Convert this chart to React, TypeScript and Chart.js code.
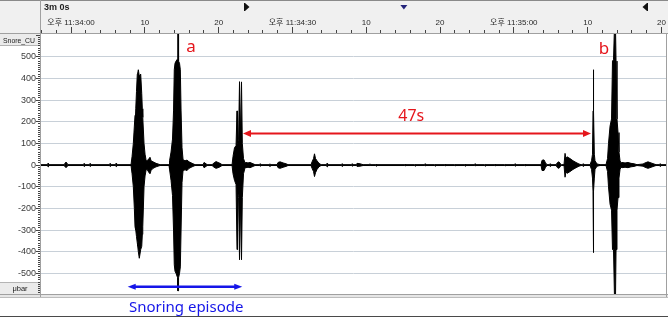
import React, { useEffect, useRef } from 'react';
import { Chart, registerables } from 'chart.js';

Chart.register(...registerables);

// ---- axis ticks ----
const xTickValues = [0, 10, 20, 30, 40, 50, 60, 70, 80];
const xTickLabels = ['오후 11:34:00', '10', '20', '오후 11:34:30', '10', '20', '오후 11:35:00', '10', '20'];
const yTickValues = [-500, -400, -300, -200, -100, 0, 100, 200, 300, 400, 500];
const yTickLabels = ['-500', '-400', '-300', '-200', '-100', '0', '100', '200', '300', '400', '500'];

// ---- waveform envelope (seconds after 11:34:00, µbar) ----
const waveT = [
  -4.07,
  -3.18, -3.12, -3.05,
  -0.95, -0.68, -0.41,
  1.69, 1.76, 1.83,
  2.5, 2.57, 2.64,
  5.21, 5.28, 5.35,
  6.03, 6.1, 6.17,
  8.13, 8.27, 8.44, 8.58, 8.67, 8.77, 8.87, 8.98, 9.04, 9.12, 9.25, 9.44, 9.58, 9.66, 9.72, 9.89, 10.03, 10.16,
  10.3, 10.57, 10.7, 10.84, 11.11, 11.52, 12.06,
  13.28, 13.35, 13.55, 13.75, 13.89, 13.99, 14.09, 14.23, 14.44, 14.47, 14.54, 14.57, 14.7, 14.81, 14.91, 15.04, 15.18,
  15.45, 15.72, 15.99, 16.4, 16.8,
  17.89, 18.02, 18.29, 18.43,
  19.11, 19.38, 19.65, 19.92, 20.19, 20.46,
  21.82, 21.95, 22.15, 22.36, 22.49, 22.56, 22.7, 22.83, 22.93, 23.01, 23.1, 23.21, 23.37, 23.58,
  23.71, 23.98, 24.25, 24.53, 24.93,
  25.54, 25.61, 25.68,
  26.89, 26.96, 27.03,
  27.91, 28.05, 28.32, 28.73, 29.13, 29.4,
  32.52, 32.66, 32.86, 32.99, 33.13, 33.33, 33.6, 33.88,
  34.62, 34.69, 34.76,
  36.65, 36.72, 36.79,
  38.01, 38.08, 38.15,
  38.68, 38.75, 39.16, 39.57,
  40.44, 40.51, 40.58,
  41.26, 41.33, 41.4,
  45.19, 45.26, 45.33,
  46.54, 46.61, 46.68,
  47.9, 47.97, 48.04,
  49.25, 49.32, 49.39,
  50.61, 50.68, 50.75,
  51.96, 52.03, 52.1,
  53.32, 53.39, 53.46,
  54.67, 54.74, 54.81,
  56.03, 56.1, 56.17,
  57.38, 57.45, 57.52,
  58.74, 58.81, 58.88,
  60.09, 60.16, 60.23,
  61.45, 61.52, 61.59,
  63.69, 63.82, 64.09, 64.3, 64.5,
  64.84, 64.91, 64.98,
  65.72, 65.92, 66.12, 66.33, 66.46,
  66.8, 66.94, 67.07, 67.21, 67.62, 68.02, 68.43, 68.83, 69.11,
  69.31, 69.38, 69.45,
  70.33, 70.53, 70.66, 70.73, 70.77, 70.83, 70.91, 71.0, 71.27, 71.68,
  72.49, 72.7, 72.83, 73.04, 73.24, 73.37, 73.51, 73.69, 73.75, 73.85, 73.98, 74.12, 74.25, 74.39, 74.53,
  74.66, 75.07, 75.47, 75.88, 76.29, 76.69,
  77.51, 77.78, 78.18, 78.59, 79.0, 79.27,
  79.74, 79.81, 79.88, 80.62,
];

const waveHi = [
  2,
  2, 8, 2,
  2, 14, 2,
  2, 7, 2,
  2, 7, 2,
  2, 7, 2,
  2, 8, 2,
  2, 40, 100, 180, 230, 260, 340, 420, 425, 440, 410, 420, 330, 260, 220, 100, 50, 25,
  20, 30, 36, 20, 15, 8, 2,
  2, 20, 60, 120, 250, 440, 470, 480, 490, 700, 700, 480, 470, 440, 250, 80, 25,
  20, 23, 15, 8, 2,
  2, 12, 6, 2,
  2, 10, 16, 12, 8, 2,
  2, 40, 80, 90, 250, 100, 120, 385, 120, 120, 384, 100, 30, 10,
  12, 10, 12, 8, 2,
  2, 6, 2,
  2, 6, 2,
  2, 12, 15, 10, 6, 2,
  2, 15, 30, 52, 30, 20, 8, 2,
  2, 8, 2,
  2, 6, 2,
  2, 6, 2,
  2, 8, 6, 2,
  2, 6, 2,
  2, 5, 2,
  2, 5, 2,
  2, 4, 2,
  2, 6, 2,
  2, 4, 2,
  2, 5, 2,
  2, 4, 2,
  2, 5, 2,
  2, 6, 2,
  2, 4, 2,
  2, 5, 2,
  2, 4, 2,
  2, 6, 2,
  2, 5, 2,
  2, 22, 24, 10, 2,
  2, 6, 2,
  2, 12, 15, 5, 2,
  2, 54, 30, 38, 30, 20, 12, 5, 2,
  2, 6, 2,
  2, 20, 50, 250, 440, 250, 50, 20, 5, 2,
  2, 30, 100, 180, 213, 480, 486, 700, 700, 480, 213, 150, 60, 20, 10,
  12, 10, 12, 8, 6, 2,
  5, 10, 15, 10, 5, 2,
  2, 6, 2, 2,
];

const waveLo = [
  -2,
  -2, -8, -2,
  -2, -12, -2,
  -2, -6, -2,
  -2, -6, -2,
  -2, -6, -2,
  -2, -7, -2,
  -2, -40, -100, -200, -285, -300, -330, -360, -375, -400, -430, -390, -375, -320, -285, -100, -50, -25,
  -20, -35, -40, -25, -15, -8, -2,
  -2, -20, -70, -140, -300, -460, -490, -500, -520, -580, -580, -520, -500, -470, -300, -80, -25,
  -22, -25, -15, -8, -2,
  -2, -12, -6, -2,
  -2, -10, -15, -12, -8, -2,
  -2, -40, -70, -90, -390, -120, -150, -437, -150, -150, -437, -150, -40, -12,
  -12, -10, -12, -8, -2,
  -2, -5, -2,
  -2, -6, -2,
  -2, -12, -15, -10, -6, -2,
  -2, -15, -30, -53, -35, -20, -8, -2,
  -2, -8, -2,
  -2, -6, -2,
  -2, -5, -2,
  -2, -6, -5, -2,
  -2, -4, -2,
  -2, -5, -2,
  -2, -4, -2,
  -2, -5, -2,
  -2, -4, -2,
  -2, -5, -2,
  -2, -4, -2,
  -2, -4, -2,
  -2, -5, -2,
  -2, -4, -2,
  -2, -5, -2,
  -2, -4, -2,
  -2, -4, -2,
  -2, -5, -2,
  -2, -4, -2,
  -2, -25, -25, -10, -2,
  -2, -6, -2,
  -2, -12, -15, -5, -2,
  -2, -56, -30, -38, -30, -20, -12, -5, -2,
  -2, -6, -2,
  -2, -20, -60, -120, -404, -120, -60, -20, -5, -2,
  -2, -30, -100, -180, -208, -390, -391, -700, -700, -390, -208, -150, -60, -20, -10,
  -12, -10, -12, -8, -6, -2,
  -5, -10, -15, -10, -5, -2,
  -2, -6, -2, -2,
];

// ---- annotations (data units) ----
const intervalArrow = { from: 23.3, to: 70.46, value: 146 };
const intervalLabel = { text: '47s', t: 46.1, value: 203 };
const episodeArrow = { from: 7.68, to: 23.2, value: -562 };
const episodeLabel = { text: 'Snoring episode', t: 15.6 };
const peakLabels = [
  { text: 'a', t: 16.25, value: 520 },
  { text: 'b', t: 72.2, value: 515 },
];
const headerTitle = '3m 0s';
const channelName = 'Snore_CU';
const unitName = 'μbar';
const markerTimes = { start: 23.6, cursor: 45.1, end: 77.8 };

const X_MIN = -4.07;
const X_MAX = 80.62;
const Y_MIN = -595;
const Y_MAX = 605;

const NARROW = '"Liberation Sans Narrow", "Liberation Sans", "Noto Sans CJK KR", sans-serif';
const SANS = '"Liberation Sans", "DejaVu Sans", sans-serif';
const ANNO = '"Noto Sans", "Noto Sans CJK KR", sans-serif';
const RED = '#e5161c';
const BLUE = '#1515e8';

function drawArrow(ctx: CanvasRenderingContext2D, x1: number, x2: number, y: number, color: string, lw: number, hl: number, hw: number) {
  ctx.strokeStyle = color;
  ctx.fillStyle = color;
  ctx.lineWidth = lw;
  ctx.beginPath();
  ctx.moveTo(x1 + hl * 0.7, y);
  ctx.lineTo(x2 - hl * 0.7, y);
  ctx.stroke();
  ctx.beginPath();
  ctx.moveTo(x1, y);
  ctx.lineTo(x1 + hl, y - hw / 2);
  ctx.lineTo(x1 + hl, y + hw / 2);
  ctx.closePath();
  ctx.fill();
  ctx.beginPath();
  ctx.moveTo(x2, y);
  ctx.lineTo(x2 - hl, y - hw / 2);
  ctx.lineTo(x2 - hl, y + hw / 2);
  ctx.closePath();
  ctx.fill();
}

function fitText(ctx: CanvasRenderingContext2D, text: string, x: number, y: number, maxW: number) {
  const w = ctx.measureText(text).width;
  ctx.save();
  ctx.translate(x, y);
  if (w > maxW) ctx.scale(maxW / w, 1);
  ctx.fillText(text, 0, 0);
  ctx.restore();
}

const decor = {
  id: 'decor',
  beforeDraw(chart: any) {
    const { ctx, width, height, chartArea: ca } = chart;
    ctx.save();
    ctx.fillStyle = '#ffffff';
    ctx.fillRect(0, 0, width, height);
    ctx.fillStyle = '#f0f0f0';
    ctx.fillRect(0, 0, width, ca.top);
    ctx.fillStyle = '#e6e6e6';
    ctx.fillRect(0, ca.bottom, width, 3);
    ctx.restore();
  },
  afterDraw(chart: any) {
    const { ctx, width, height, chartArea: ca, scales } = chart;
    const xs = scales.x;
    const ys = scales.y;
    ctx.save();
    const hline = (y: number, x1: number, x2: number, c: string) => {
      ctx.fillStyle = c;
      ctx.fillRect(x1, y, x2 - x1, 1);
    };
    const vline = (x: number, y1: number, y2: number, c: string) => {
      ctx.fillStyle = c;
      ctx.fillRect(x, y1, 1, y2 - y1);
    };

    // left panel cells
    ctx.fillStyle = '#ebebeb';
    ctx.fillRect(0, ca.top, ca.left - 1, 11);
    ctx.fillRect(0, ca.bottom - 11, ca.left - 1, 11);
    hline(ca.top + 11, 0, ca.left - 1, '#b4b4b4');
    hline(ca.bottom - 12, 0, ca.left - 1, '#b4b4b4');

    // frame
    hline(0, 0, width, '#8a8a8a');
    hline(ca.top - 1, 0, width, '#a0a0a0');
    hline(ca.bottom, 0, width, '#a0a0a0');
    hline(ca.bottom + 3, 0, width, '#bdbdbd');
    hline(height - 1, 0, width, '#4a4a4a');
    vline(ca.left - 1, 0, ca.bottom + 3, '#a0a0a0');
    vline(ca.right, ca.top, ca.bottom + 3, '#a0a0a0');

    // time axis tick marks (major every 10 s, minor every 2 s)
    ctx.fillStyle = '#444444';
    for (let t = -4; t <= 80; t += 2) {
      const px = Math.round(xs.getPixelForValue(t) - 0.5);
      const len = t % 10 === 0 ? 6 : 3;
      ctx.fillRect(px, ca.top - 1 - len, 1, len);
    }
    // amplitude axis tick marks (major every 100, minor every 10)
    for (let v = -590; v <= 600; v += 10) {
      const py = Math.round(ys.getPixelForValue(v) - 0.5);
      const len = v % 100 === 0 ? 4 : 2;
      ctx.fillRect(ca.left - 1 - len, py, len, 1);
    }

    // header texts
    ctx.fillStyle = '#1e1e1e';
    ctx.font = `bold 9px ${SANS}`;
    ctx.textAlign = 'left';
    ctx.textBaseline = 'alphabetic';
    ctx.fillText(headerTitle, 44, 10);

    ctx.font = `7.5px ${SANS}`;
    ctx.fillStyle = '#202020';
    fitText(ctx, channelName, 3, ca.top + 9, 32);
    ctx.textAlign = 'center';
    ctx.fillText(unitName, (ca.left - 1) / 2, ca.bottom - 3);

    // header markers
    const sx = Math.round(xs.getPixelForValue(markerTimes.start));
    ctx.fillStyle = '#111111';
    ctx.fillRect(sx - 1, 3, 1, 8);
    ctx.beginPath();
    ctx.moveTo(sx, 3);
    ctx.lineTo(sx, 11);
    ctx.lineTo(sx + 4.5, 7);
    ctx.closePath();
    ctx.fill();
    const ex = Math.round(xs.getPixelForValue(markerTimes.end));
    ctx.fillRect(ex + 2, 3, 1, 8);
    ctx.beginPath();
    ctx.moveTo(ex + 2, 3);
    ctx.lineTo(ex + 2, 11);
    ctx.lineTo(ex - 2.5, 7);
    ctx.closePath();
    ctx.fill();
    const cx = xs.getPixelForValue(markerTimes.cursor);
    ctx.fillStyle = '#23237a';
    ctx.beginPath();
    ctx.moveTo(cx - 3.5, 5);
    ctx.lineTo(cx + 3.5, 5);
    ctx.lineTo(cx, 9.5);
    ctx.closePath();
    ctx.fill();

    // annotations
    drawArrow(ctx, xs.getPixelForValue(intervalArrow.from), xs.getPixelForValue(intervalArrow.to),
      ys.getPixelForValue(intervalArrow.value), RED, 2, 8, 7);
    ctx.fillStyle = RED;
    ctx.font = `16px ${ANNO}`;
    ctx.textAlign = 'center';
    ctx.textBaseline = 'alphabetic';
    ctx.fillText(intervalLabel.text, xs.getPixelForValue(intervalLabel.t), ys.getPixelForValue(intervalLabel.value));
    ctx.font = `17px ${ANNO}`;
    for (const p of peakLabels) {
      ctx.fillText(p.text, xs.getPixelForValue(p.t), ys.getPixelForValue(p.value));
    }

    drawArrow(ctx, xs.getPixelForValue(episodeArrow.from), xs.getPixelForValue(episodeArrow.to),
      ys.getPixelForValue(episodeArrow.value), BLUE, 2.5, 8, 6);
    ctx.fillStyle = BLUE;
    ctx.font = `15px ${ANNO}`;
    ctx.fillText(episodeLabel.text, xs.getPixelForValue(episodeLabel.t), ca.bottom + 18);

    ctx.restore();
  },
};

export default function App() {
  const ref = useRef<HTMLCanvasElement>(null);

  useEffect(() => {
    document.body.style.margin = '0';
    const canvas = ref.current;
    if (!canvas) return;
    const hi = waveT.map((t, i) => ({ x: t, y: waveHi[i] }));
    const lo = waveT.map((t, i) => ({ x: t, y: waveLo[i] }));

    const chart = new Chart(canvas, {
      type: 'line',
      data: {
        datasets: [
          { data: hi, borderColor: '#000000', borderWidth: 1, pointRadius: 0, fill: false, tension: 0 } as any,
          { data: lo, borderColor: '#000000', borderWidth: 1, pointRadius: 0, fill: '-1', backgroundColor: '#000000', tension: 0 } as any,
        ],
      },
      options: {
        responsive: false,
        maintainAspectRatio: false,
        animation: false,
        devicePixelRatio: 1,
        parsing: false,
        events: [],
        layout: { padding: { left: 0, top: 0, right: 2, bottom: 23 } },
        plugins: {
          legend: { display: false },
          tooltip: { enabled: false },
        },
        scales: {
          x: {
            type: 'linear',
            position: 'top',
            min: X_MIN,
            max: X_MAX,
            afterBuildTicks: (scale: any) => {
              scale.ticks = xTickValues.map((v) => ({ value: v }));
            },
            afterFit: (scale: any) => {
              scale.height = 34;
              scale.paddingLeft = 0;
              scale.paddingRight = 0;
            },
            grid: { display: false, drawTicks: false },
            border: { display: false },
            ticks: {
              autoSkip: false,
              maxRotation: 0,
              minRotation: 0,
              padding: 6,
              color: '#2a2a2a',
              font: { family: NARROW, size: 8 },
              callback: (_v: any, i: number) => xTickLabels[i],
            },
          },
          y: {
            type: 'linear',
            min: Y_MIN,
            max: Y_MAX,
            afterBuildTicks: (scale: any) => {
              scale.ticks = yTickValues.map((v) => ({ value: v }));
            },
            afterFit: (scale: any) => {
              scale.width = 41;
              scale.paddingTop = 0;
              scale.paddingBottom = 0;
            },
            grid: { color: '#c8d0d8', lineWidth: 1, drawTicks: false },
            border: { display: false },
            ticks: {
              autoSkip: false,
              padding: 5,
              color: '#3a3a3a',
              font: { family: SANS, size: 9 },
              callback: (_v: any, i: number) => yTickLabels[i],
            },
          },
        },
      } as any,
      plugins: [decor],
    });
    return () => chart.destroy();
  }, []);

  return (
    <div style={{ position: 'absolute', left: 0, top: 0, width: 668, height: 317 }}>
      <canvas ref={ref} width={668} height={317} style={{ display: 'block', width: 668, height: 317 }} />
    </div>
  );
}
